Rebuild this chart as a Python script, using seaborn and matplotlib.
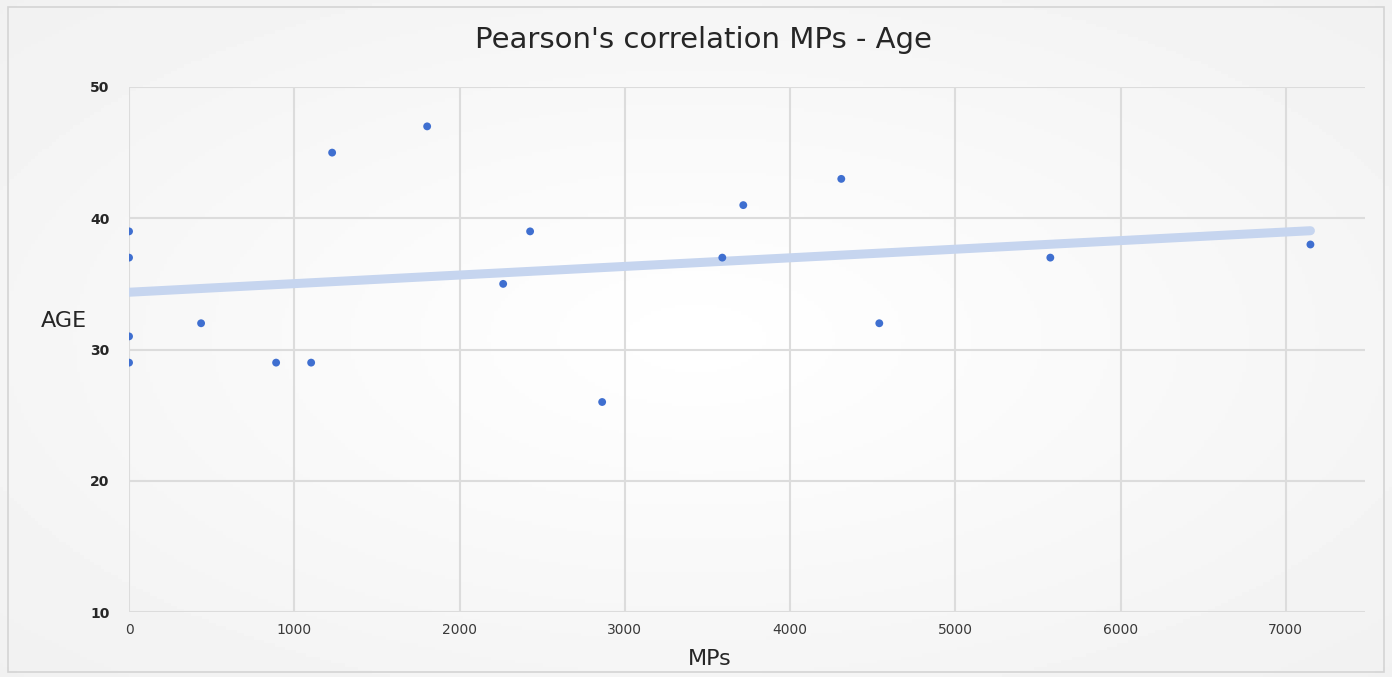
import numpy as np
import pandas as pd
import seaborn as sns
import matplotlib.pyplot as plt
from matplotlib.patches import Rectangle

# MPs vs age
mps = [0, 0, 0, 0, 436, 890, 1102, 1229, 1804, 2264, 2427, 2863, 3590, 3717, 4310, 4540, 5575, 7149]
age = [39, 37, 31, 29, 32, 29, 29, 45, 47, 35, 39, 26, 37, 41, 43, 32, 37, 38]
x_ticks = [0, 1000, 2000, 3000, 4000, 5000, 6000, 7000]
y_ticks = [10, 20, 30, 40, 50]

df = pd.DataFrame({"MPs": mps, "AGE": age})

sns.set_theme(style="white")
plt.rcParams["font.family"] = ["DejaVu Sans"]

fig = plt.figure(figsize=(13.92, 6.77), dpi=100)
fig.patch.set_facecolor("white")

# soft radial background like the office chart
bg = fig.add_axes([0, 0, 1, 1], zorder=-10)
yy, xx = np.mgrid[0:1:200j, 0:1:400j]
r = np.sqrt(((xx - 0.5) / 0.7) ** 2 + ((yy - 0.5) / 0.7) ** 2)
bg.imshow(1 - 0.055 * r, cmap="gray", vmin=0, vmax=1, aspect="auto", extent=[0, 1, 0, 1])
bg.axis("off")
fig.patches.append(Rectangle((0.006, 0.008), 0.988, 0.982, transform=fig.transFigure,
                             fill=False, edgecolor="#d4d4d4", lw=1.2))

ax = fig.add_axes([0.0927, 0.096, 0.888, 0.7755])
ax.set_facecolor("none")

sns.regplot(data=df, x="MPs", y="AGE", ci=None, ax=ax,
            scatter_kws={"s": 32, "color": "#3f6fd0", "alpha": 1, "edgecolor": "none", "zorder": 3},
            line_kws={"color": "#c6d5ef", "lw": 6.5, "solid_capstyle": "round", "zorder": 2})

ax.set_xlim(0, 7480)
ax.set_ylim(10, 50)
ax.set_xticks(x_ticks)
ax.set_yticks(y_ticks)
ax.grid(True, color="#dcdcdc", lw=1.5)
ax.set_axisbelow(True)
for s in ax.spines.values():
    s.set_visible(False)
ax.tick_params(axis="both", length=0)
ax.tick_params(axis="x", labelsize=10, labelcolor="#3a3a3a", pad=8)
ax.tick_params(axis="y", labelsize=10, labelcolor="#262626", pad=14)
for lab in ax.get_yticklabels():
    lab.set_fontweight("bold")

ax.set_xlabel("MPs", fontsize=16, color="#262626")
ax.xaxis.set_label_coords(0.47, -0.07)
ax.set_ylabel("AGE", fontsize=16, color="#262626", rotation=0, va="center")
ax.yaxis.set_label_coords(-0.053, 0.555)
fig.text(703 / 1392, 1 - 40 / 677, "Pearson's correlation MPs - Age", fontsize=21,
         color="#262626", ha="center", va="center")

fig.savefig("out.png", dpi=100)
